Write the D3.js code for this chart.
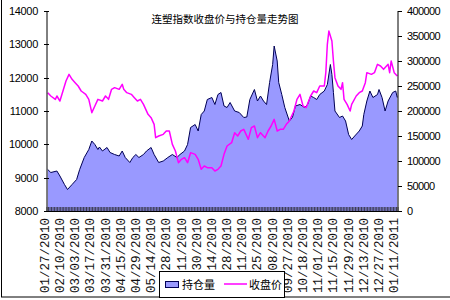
<!DOCTYPE html>
<html>
<head>
<meta charset="utf-8">
<script src="https://cdn.jsdelivr.net/npm/d3@7"></script>
<style>
  body { margin: 0; background: #fff; }
  svg { display: block; }
  .num { font-family: "Liberation Sans", Arial, sans-serif; font-size: 11px; fill: #000; }
  .cat { font-family: "Liberation Mono", monospace; font-size: 12.5px; fill: #111; }
  .cjk { font-family: "Noto Sans CJK SC", sans-serif; fill: #000; }
</style>
</head>
<body>
<svg width="450" height="300"></svg>
<script>
// trading days shown (index 0 = 01/27/2010)
const dayCount = 231;

// x labels, one every 10 trading days
const tickLabels = ["01/27/2010", "02/10/2010", "03/03/2010", "03/17/2010", "03/31/2010",
  "04/15/2010", "04/29/2010", "05/14/2010", "05/28/2010", "06/11/2010", "06/30/2010",
  "07/14/2010", "07/28/2010", "08/11/2010", "08/25/2010", "09/08/2010", "09/27/2010",
  "10/18/2010", "11/01/2010", "11/15/2010", "11/29/2010", "12/13/2010", "12/27/2010",
  "01/11/2011"];

const leftTicks = [8000, 9000, 10000, 11000, 12000, 13000, 14000];
const rightTicks = [0, 50000, 100000, 150000, 200000, 250000, 300000, 350000, 400000];

// 持仓量 [day, value]
const volumeSeries = [[0,83000],[2,77000],[6,80000],[8,70000],[11,53000],[13,43000],[16,53000],
  [19,63000],[21,83000],[24,107000],[27,123000],[29,140000],[31,133000],[33,123000],[34,128000],
  [36,120000],[39,127000],[41,117000],[44,113000],[47,110000],[49,120000],[51,107000],[54,97000],
  [56,107000],[58,113000],[60,107000],[63,113000],[65,120000],[68,127000],[70,113000],[73,97000],
  [76,100000],[79,107000],[82,113000],[85,107000],[87,113000],[90,120000],[92,133000],[94,167000],
  [97,173000],[99,160000],[101,193000],[103,200000],[105,223000],[108,227000],[110,213000],
  [112,233000],[114,237000],[116,210000],[118,207000],[120,217000],[123,200000],[126,197000],
  [129,187000],[131,188000],[133,223000],[136,243000],[138,220000],[140,230000],[142,220000],
  [144,213000],[146,257000],[148,293000],[149,330000],[151,300000],[152,257000],[154,233000],
  [156,207000],[159,180000],[161,187000],[163,210000],[166,213000],[169,207000],[171,213000],
  [173,230000],[175,227000],[177,223000],[179,233000],[182,240000],[184,253000],[186,293000],
  [187,273000],[188,237000],[189,200000],[192,187000],[194,190000],[196,180000],[198,153000],
  [200,143000],[202,150000],[205,160000],[207,170000],[208,193000],[210,220000],[212,240000],
  [214,227000],[217,233000],[218,243000],[220,227000],[222,200000],[224,220000],[227,237000],
  [229,240000],[230,227000]];

// 收盘价 [day, value]
const closeSeries = [[0,11550],[2,11450],[5,11350],[6,11450],[8,11300],[10,11600],[12,11900],
  [14,12100],[16,11950],[18,11850],[20,11750],[22,11600],[25,11500],[27,11350],[29,10950],
  [31,11150],[33,11350],[36,11300],[38,11450],[40,11350],[42,11650],[44,11700],[47,11650],
  [49,11800],[50,11650],[52,11550],[55,11500],[57,11400],[59,11300],[61,11350],[63,11200],
  [66,10900],[68,10800],[70,10600],[71,10200],[73,10250],[76,10300],[78,10400],[80,10400],
  [82,10000],[84,9800],[86,9450],[88,9550],[90,9600],[92,9450],[94,9750],[97,9700],[99,9550],
  [101,9250],[103,9350],[105,9300],[108,9300],[110,9200],[112,9250],[114,9350],[116,9700],
  [118,9950],[121,10050],[123,10350],[125,10250],[127,10400],[129,10450],[132,10150],[134,10500],
  [136,10550],[138,10200],[140,10350],[143,10200],[145,10400],[147,10550],[149,10750],[151,10400],
  [153,10450],[155,10450],[157,10600],[159,10700],[162,11000],[164,11350],[166,11500],[168,11150],
  [170,11100],[173,11450],[175,11600],[177,11550],[179,11750],[182,11750],[183,12150],[184,13000],
  [185,13400],[187,13100],[188,12500],[189,12000],[191,11750],[193,11650],[194,11850],[195,11350],
  [197,11200],[199,11000],[200,11200],[203,11450],[205,11550],[207,11600],[209,11850],[210,12150],
  [213,12100],[215,12150],[217,12400],[219,12350],[221,12250],[224,12400],[225,12150],[226,12500],
  [228,12150],[230,12050]];

const svg = d3.select("svg");
const plot = { left: 47, right: 398, top: 11, bottom: 211 };

const x = d3.scaleLinear().domain([0, dayCount]).range([plot.left, plot.right]);
const yL = d3.scaleLinear().domain([8000, 14000]).range([plot.bottom, plot.top]);
const yR = d3.scaleLinear().domain([0, 400000]).range([plot.bottom, plot.top]);

// chart frame
svg.append("rect")
    .attr("x", 1.5).attr("y", -5)
    .attr("width", 460).attr("height", 302)
    .attr("fill", "none").attr("stroke", "#000");

// volume area
svg.append("path")
    .datum(volumeSeries)
    .attr("d", d3.area().x(d => x(d[0] + 0.5)).y0(yR(0)).y1(d => yR(d[1])))
    .attr("fill", "#9999ff");
svg.append("path")
    .datum(volumeSeries)
    .attr("d", d3.line().x(d => x(d[0] + 0.5)).y(d => yR(d[1])))
    .attr("fill", "none").attr("stroke", "#000055").attr("stroke-width", 1);

// close price line
svg.append("path")
    .datum(closeSeries)
    .attr("d", d3.line().x(d => x(d[0] + 0.5)).y(d => yL(d[1])))
    .attr("fill", "none").attr("stroke", "#ff00ff").attr("stroke-width", 1.5)
    .attr("stroke-linejoin", "round");

// left axis
svg.append("line")
    .attr("x1", plot.left).attr("x2", plot.left)
    .attr("y1", plot.top).attr("y2", plot.bottom).attr("stroke", "#000");
svg.selectAll(".ltick").data(leftTicks).enter().append("line")
    .attr("x1", plot.left - 3).attr("x2", plot.left + 2)
    .attr("y1", d => Math.round(yL(d)) + 0.5).attr("y2", d => Math.round(yL(d)) + 0.5)
    .attr("stroke", "#000");
svg.selectAll(".llab").data(leftTicks).enter().append("text")
    .attr("class", "num")
    .attr("x", 38).attr("y", d => yL(d) + 4)
    .attr("text-anchor", "end")
    .attr("letter-spacing", "-0.3px")
    .text(d => d);

// right axis
svg.append("line")
    .attr("x1", plot.right).attr("x2", plot.right)
    .attr("y1", plot.top).attr("y2", plot.bottom).attr("stroke", "#000");
svg.selectAll(".rtick").data(rightTicks).enter().append("line")
    .attr("x1", plot.right).attr("x2", plot.right + 4)
    .attr("y1", d => Math.round(yR(d)) + 0.5).attr("y2", d => Math.round(yR(d)) + 0.5)
    .attr("stroke", "#000");
svg.selectAll(".rlab").data(rightTicks).enter().append("text")
    .attr("class", "num")
    .attr("x", 407).attr("y", d => yR(d) + 4)
    .attr("letter-spacing", "-0.6px")
    .text(d => d);

// category axis with a tick per trading day
svg.append("line")
    .attr("x1", plot.left).attr("x2", plot.right)
    .attr("y1", plot.bottom + 0.5).attr("y2", plot.bottom + 0.5).attr("stroke", "#000");
svg.selectAll(".ctick").data(d3.range(dayCount + 1)).enter().append("line")
    .attr("x1", d => x(d)).attr("x2", d => x(d))
    .attr("y1", plot.bottom - 4).attr("y2", plot.bottom)
    .attr("stroke", "#222").attr("stroke-width", 0.8);
svg.selectAll(".clab").data(tickLabels).enter().append("text")
    .attr("class", "cat")
    .attr("transform", (d, i) => `translate(${x(i * 10 + 0.5) + 1},218) rotate(-90)`)
    .attr("text-anchor", "end")
    .text(d => d);

// title
svg.append("text")
    .attr("class", "cjk")
    .attr("x", 225).attr("y", 23)
    .attr("text-anchor", "middle")
    .attr("font-size", "10.5px")
    .text("连塑指数收盘价与持仓量走势图");

// legend
const lg = svg.append("g");
lg.append("rect")
    .attr("x", 159.5).attr("y", 271.5).attr("width", 125).attr("height", 26)
    .attr("fill", "#fff").attr("stroke", "#000");
lg.append("rect")
    .attr("x", 165.5).attr("y", 281.5).attr("width", 13).attr("height", 6)
    .attr("fill", "#9999ff").attr("stroke", "#000055");
lg.append("text").attr("class", "cjk").attr("font-size", "11px")
    .attr("x", 182).attr("y", 289).text("持仓量");
lg.append("line")
    .attr("x1", 224).attr("x2", 247).attr("y1", 284).attr("y2", 284)
    .attr("stroke", "#ff00ff").attr("stroke-width", 1.5);
lg.append("text").attr("class", "cjk").attr("font-size", "11px")
    .attr("x", 249).attr("y", 289).text("收盘价");
</script>
</body>
</html>
